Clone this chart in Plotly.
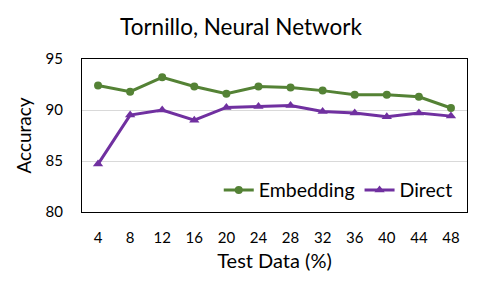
import plotly.graph_objects as go

categories = ["4", "8", "12", "16", "20", "24", "28", "32", "36", "40", "44", "48"]
embedding = [92.4, 91.8, 93.2, 92.3, 91.6, 92.3, 92.2, 91.9, 91.5, 91.5, 91.3, 90.2]
direct = [84.7, 89.5, 90.0, 89.0, 90.25, 90.35, 90.45, 89.85, 89.7, 89.35, 89.7, 89.4]
y_ticks = [80, 85, 90, 95]

FONT = "Lato"

fig = go.Figure()
fig.add_trace(go.Scatter(x=categories, y=embedding, name="Embedding", mode="lines+markers",
                         line=dict(color="#548235", width=3),
                         marker=dict(symbol="circle", size=8, color="#548235")))
fig.add_trace(go.Scatter(x=categories, y=direct, name="Direct", mode="lines+markers",
                         line=dict(color="#7030A0", width=3),
                         marker=dict(symbol="triangle-up", size=9, color="#7030A0")))

fig.update_layout(
    width=482, height=293,
    margin=dict(l=82, r=15, t=59, b=81, autoexpand=False),
    paper_bgcolor="white", plot_bgcolor="white",
    font=dict(family=FONT, size=15, color="#000000"),
    title=dict(text="Tornillo, Neural Network", x=0.5, xanchor="center", y=0.908, yanchor="middle",
               font=dict(family=FONT, size=22.5, color="#000000")),
    showlegend=True,
    legend=dict(orientation="h", x=0.976, xanchor="right", y=0.015, yanchor="bottom",
                bgcolor="rgba(0,0,0,0)", font=dict(family=FONT, size=19.5),
                itemwidth=30, tracegroupgap=0),
    xaxis=dict(type="category", range=[-0.5, len(categories) - 0.5],
               showline=True, linecolor="black", linewidth=1, mirror=True,
               showgrid=False, ticks="", tickfont=dict(size=15), automargin=False,
               ticklabelstandoff=12,
               title=dict(text="Test Data (%)", font=dict(size=20), standoff=8)),
    yaxis=dict(range=[80, 95], tickvals=y_ticks, showline=True, linecolor="black", linewidth=1,
               mirror=True, showgrid=True, gridcolor="#D9D9D9", gridwidth=1, zeroline=False,
               ticks="", tickfont=dict(size=15), ticklabelstandoff=15, automargin=False,
               title=dict(text="Accuracy", font=dict(size=19), standoff=8)),
)

fig.write_html("out.html", config={"displayModeBar": False},
               post_script="document.body.style.margin='0';document.body.style.overflow='hidden';")
